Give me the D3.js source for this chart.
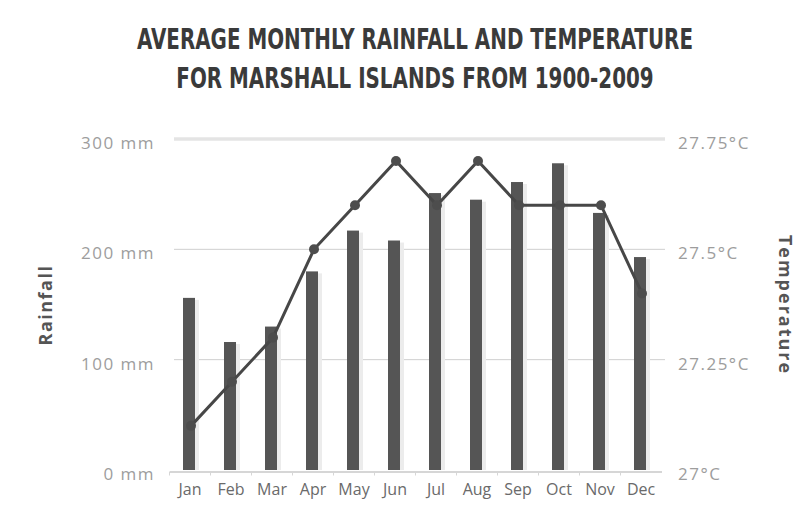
<!DOCTYPE html>
<html>
<head>
<meta charset="utf-8">
<script src="https://cdn.jsdelivr.net/npm/d3@7"></script>
<style>
  html, body { margin: 0; padding: 0; background: #ffffff; }
  svg { display: block; }
</style>
</head>
<body>
<svg id="chart" width="803" height="506"></svg>
<script>
// Monthly climate normals, Marshall Islands 1900-2009
const months = ["Jan", "Feb", "Mar", "Apr", "May", "Jun", "Jul", "Aug", "Sep", "Oct", "Nov", "Dec"];
const rainfall = [156, 116, 130, 180, 217, 208, 251, 245, 261, 278, 233, 193];   // mm
const temperature = [27.1, 27.2, 27.3, 27.5, 27.6, 27.7, 27.6, 27.7, 27.6, 27.6, 27.6, 27.4]; // °C
const rainTicks = [0, 100, 200, 300];
const tempTicks = [27, 27.25, 27.5, 27.75];
const titleLines = ["AVERAGE MONTHLY RAINFALL AND TEMPERATURE", "FOR MARSHALL ISLANDS FROM 1900-2009"];

const svg = d3.select("#chart");
const plot = { left: 169.5, right: 661.5, top: 139, bottom: 470 };

const x = d3.scaleBand().domain(months).range([plot.left, plot.right]).padding(0);
const yRain = d3.scaleLinear().domain([0, 300]).range([plot.bottom, plot.top]);
const yTemp = d3.scaleLinear().domain([27, 27.75]).range([plot.bottom, plot.top]);

const labelFont = "'Open Sans', 'DejaVu Sans', sans-serif";

// Title: tall condensed caps, squeezed horizontally so line 1 spans 556px
const titleText = svg.append("g").selectAll("text")
  .data(titleLines)
  .join("text")
  .attr("text-anchor", "middle")
  .attr("font-family", "'Liberation Sans Narrow', 'DejaVu Sans Condensed', sans-serif")
  .attr("font-weight", "bold")
  .attr("font-size", 28)
  .attr("fill", "#3a3a3a")
  .text(d => d);
const firstW = titleText.nodes()[0].getComputedTextLength();
const sx = Math.min(1, 556 / firstW);
titleText.attr("transform", (d, i) => `translate(415,${49 + i * 39}) scale(${sx},1)`);

// Gridlines
const grid = svg.append("g");
grid.selectAll("line")
  .data(rainTicks.filter(t => t > 0))
  .join("line")
  .attr("x1", 174).attr("x2", 665)
  .attr("y1", d => yRain(d)).attr("y2", d => yRain(d))
  .attr("stroke", d => d === 300 ? "#e4e4e4" : "#cfcfcf")
  .attr("stroke-width", d => d === 300 ? 3.5 : 1);

// Bottom axis
const xAxis = d3.axisBottom(x).tickSize(0).tickPadding(12);
const xg = svg.append("g")
  .attr("transform", `translate(0,${plot.bottom + 1.5})`)
  .call(xAxis);
xg.select(".domain").attr("stroke", "#d6d6d6").attr("stroke-width", 2);
xg.selectAll("text")
  .attr("font-family", labelFont)
  .attr("font-size", 16)
  .attr("fill", "#6a6a6a");
// small tick marks at category boundaries
xg.append("g").selectAll("line")
  .data(months)
  .join("line")
  .attr("x1", d => x(d)).attr("x2", d => x(d))
  .attr("y1", 0).attr("y2", 4)
  .attr("stroke", "#d6d6d6");

// Left axis (rainfall)
const yl = svg.append("g")
  .attr("transform", `translate(${155},0)`)
  .call(d3.axisLeft(yRain).tickValues(rainTicks).tickSize(0).tickPadding(0).tickFormat(d => d + " mm"));
yl.select(".domain").remove();
yl.selectAll("text")
  .attr("font-family", labelFont)
  .attr("font-size", 17)
  .attr("letter-spacing", 1.5)
  .attr("dy", "0.55em")
  .attr("fill", "#9d9d9d");

// Right axis (temperature)
const yr = svg.append("g")
  .attr("transform", `translate(${678},0)`)
  .call(d3.axisRight(yTemp).tickValues(tempTicks).tickSize(0).tickPadding(0).tickFormat(d => d + "°C"));
yr.select(".domain").remove();
yr.selectAll("text")
  .attr("font-family", labelFont)
  .attr("font-size", 17)
  .attr("letter-spacing", 1.5)
  .attr("dy", "0.55em")
  .attr("fill", "#9d9d9d");

// Axis titles
svg.append("text")
  .attr("transform", "translate(52,305) rotate(-90)")
  .attr("text-anchor", "middle")
  .attr("font-family", labelFont)
  .attr("font-weight", "bold")
  .attr("font-size", 18)
  .attr("letter-spacing", 1.5)
  .attr("fill", "#555555")
  .text("Rainfall");

svg.append("text")
  .attr("transform", "translate(779,305) rotate(90)")
  .attr("text-anchor", "middle")
  .attr("font-family", labelFont)
  .attr("font-weight", "bold")
  .attr("font-size", 18)
  .attr("letter-spacing", 2)
  .attr("fill", "#555555")
  .text("Temperature");

// Rainfall columns with a soft shadow
const barW = 12;
const cx = d => x(d) + x.bandwidth() / 2;
const bars = svg.append("g");
bars.selectAll("rect.shadow")
  .data(months)
  .join("rect")
  .attr("class", "shadow")
  .attr("x", d => cx(d) - barW / 2 + 1)
  .attr("y", (d, i) => yRain(rainfall[i]) + 2)
  .attr("width", barW + 2)
  .attr("height", (d, i) => yRain(0) - yRain(rainfall[i]) - 2)
  .attr("fill", "#ececec");
bars.selectAll("rect.bar")
  .data(months)
  .join("rect")
  .attr("class", "bar")
  .attr("x", d => cx(d) - barW / 2 - 1)
  .attr("y", (d, i) => yRain(rainfall[i]))
  .attr("width", barW)
  .attr("height", (d, i) => yRain(0) - yRain(rainfall[i]))
  .attr("fill", "#555555");

// Temperature line and markers
const line = d3.line()
  .x(d => cx(d.m) + 1)
  .y(d => yTemp(d.t));
const pts = months.map((m, i) => ({ m, t: temperature[i] }));
svg.append("path")
  .datum(pts)
  .attr("d", line)
  .attr("fill", "none")
  .attr("stroke", "#474747")
  .attr("stroke-width", 3);
svg.append("g").selectAll("circle")
  .data(pts)
  .join("circle")
  .attr("cx", d => cx(d.m) + 1)
  .attr("cy", d => yTemp(d.t))
  .attr("r", 5)
  .attr("fill", "#4d4d4d");
</script>
</body>
</html>
